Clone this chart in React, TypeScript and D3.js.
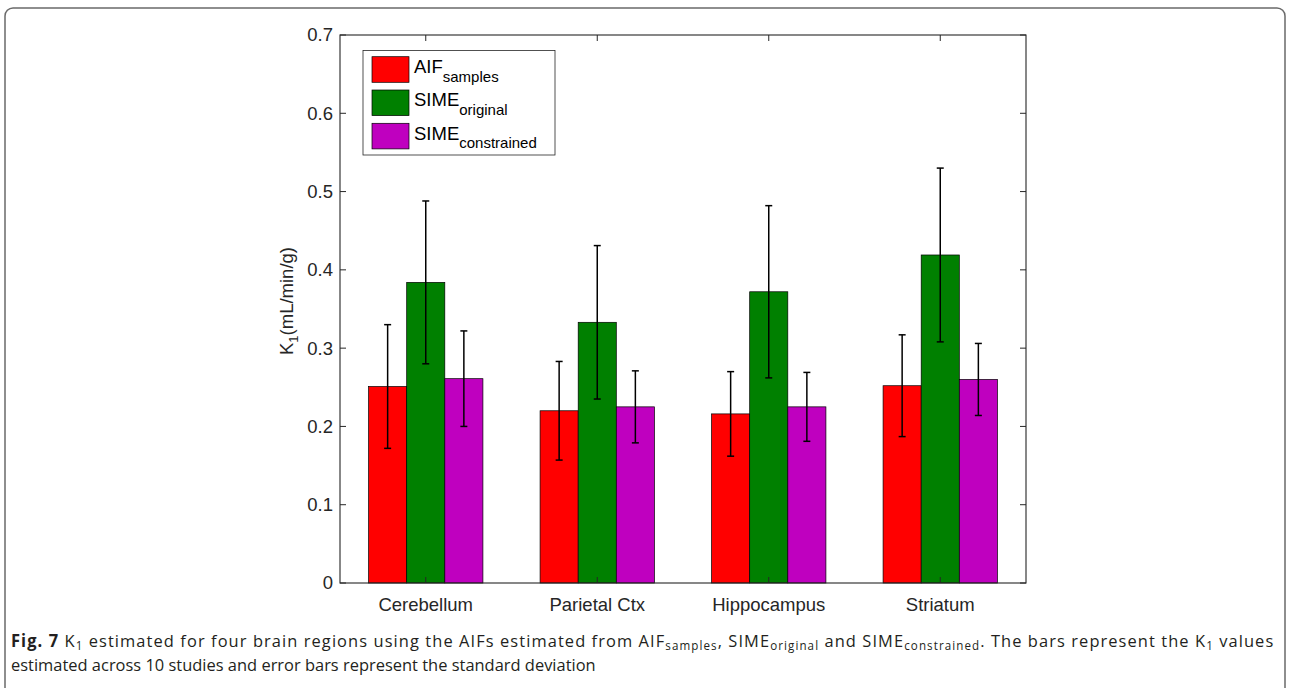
import React, { useRef, useLayoutEffect, useState } from 'react';
import * as d3 from 'd3';

// ---------- data ----------
const categories = ['Cerebellum', 'Parietal Ctx', 'Hippocampus', 'Striatum'];
const aifSamples = [0.251, 0.220, 0.216, 0.252];
const aifSamplesSd = [0.079, 0.063, 0.054, 0.065];
const simeOriginal = [0.384, 0.333, 0.372, 0.419];
const simeOriginalSd = [0.104, 0.098, 0.110, 0.111];
const simeConstrained = [0.261, 0.225, 0.225, 0.260];
const simeConstrainedSd = [0.061, 0.046, 0.044, 0.046];

const legendMain = ['AIF', 'SIME', 'SIME'];
const legendSub = ['samples', 'original', 'constrained'];
const seriesColors = ['#ff0000', '#008000', '#bf00bf'];

const yTicks = [0, 0.1, 0.2, 0.3, 0.4, 0.5, 0.6, 0.7];
const yTickLabels = ['0', '0.1', '0.2', '0.3', '0.4', '0.5', '0.6', '0.7'];

// ---------- layout ----------
const W = 1290;
const H = 688;
const M = { left: 340, right: 1026, top: 35, bottom: 583 };
const AX = '#262626';
const FONT = '"Liberation Sans", Arial, Helvetica, sans-serif';
const CAP_FONT = '"Open Sans", "Noto Sans", sans-serif';
const CAP_X0 = 11;
const CAP_X1 = 1274;
const CAP_L2_END = 596;

export default function App() {
  const x = d3.scaleLinear().domain([0.5, categories.length + 0.5]).range([M.left, M.right]);
  const y = d3.scaleLinear().domain([0, 0.7]).range([M.bottom, M.top]);
  const band = d3.scaleBand<number>().domain([0, 1, 2]).range([-1 / 3, 1 / 3]);
  const bw = x(1 + band.bandwidth()) - x(1);

  const series = [
    { values: aifSamples, sd: aifSamplesSd },
    { values: simeOriginal, sd: simeOriginalSd },
    { values: simeConstrained, sd: simeConstrainedSd },
  ];

  const line1Ref = useRef<SVGTextElement>(null);
  const line2Ref = useRef<SVGTextElement>(null);
  const [sx, setSx] = useState(1);
  const [ls, setLs] = useState(0);
  useLayoutEffect(() => {
    if (line1Ref.current && line2Ref.current) {
      const w1 = line1Ref.current.getBBox().width;
      const w2 = line2Ref.current.getBBox().width;
      if (w1 > 0 && w2 > 0) {
        const s = (CAP_L2_END - CAP_X0) / w2;
        const want = (CAP_X1 - CAP_X0) / s;
        const n = (line1Ref.current.textContent || '').length;
        setSx(s);
        setLs(n > 1 ? Math.max(0, (want - w1) / (n - 1)) : 0);
      }
    }
  }, []);

  const tickLen = 6;
  const cap = 3.5;
  const subDy = 3.5;
  const subFs = 12;

  return (
    <svg width={W} height={H} style={{ position: 'absolute', left: 0, top: 0, background: '#fff' }}>
      {/* outer frame */}
      <rect x={5} y={8} width={1280} height={720} rx={8} ry={8} fill="none" stroke="#6a6a6a" strokeWidth={1.5} />

      {/* bars */}
      {series.map((s, si) =>
        s.values.map((v, ci) => {
          const x0 = x(ci + 1 + (band(si) as number));
          return (
            <rect key={`b${si}-${ci}`} x={x0} y={y(v)} width={bw} height={y(0) - y(v)}
              fill={seriesColors[si]} stroke="#000" strokeWidth={0.7} />
          );
        })
      )}

      {/* error bars */}
      {series.map((s, si) =>
        s.values.map((v, ci) => {
          const cx = x(ci + 1 + (band(si) as number)) + bw / 2;
          const top = y(v + s.sd[ci]);
          const bot = y(v - s.sd[ci]);
          return (
            <g key={`e${si}-${ci}`} stroke="#000" strokeWidth={1.5}>
              <line x1={cx} x2={cx} y1={top} y2={bot} />
              <line x1={cx - cap} x2={cx + cap} y1={top} y2={top} />
              <line x1={cx - cap} x2={cx + cap} y1={bot} y2={bot} />
            </g>
          );
        })
      )}

      {/* axes box */}
      <rect x={M.left} y={M.top} width={M.right - M.left} height={M.bottom - M.top} fill="none" stroke={AX} strokeWidth={1.1} />

      {/* y ticks */}
      {yTicks.map((t, i) => (
        <g key={`yt${i}`}>
          <line x1={M.left} x2={M.left + tickLen} y1={y(t)} y2={y(t)} stroke={AX} strokeWidth={1} />
          <line x1={M.right} x2={M.right - tickLen} y1={y(t)} y2={y(t)} stroke={AX} strokeWidth={1} />
          <text x={M.left - 7} y={y(t)} dy="0.35em" textAnchor="end" fontFamily={FONT} fontSize={18.5} fill={AX}>
            {yTickLabels[i]}
          </text>
        </g>
      ))}

      {/* x ticks */}
      {categories.map((c, i) => (
        <g key={`xt${i}`}>
          <line x1={x(i + 1)} x2={x(i + 1)} y1={M.bottom} y2={M.bottom - tickLen} stroke={AX} strokeWidth={1} />
          <line x1={x(i + 1)} x2={x(i + 1)} y1={M.top} y2={M.top + tickLen} stroke={AX} strokeWidth={1} />
          <text x={x(i + 1)} y={611} textAnchor="middle" fontFamily={FONT} fontSize={18.5} fill={AX}>
            {c}
          </text>
        </g>
      ))}

      {/* y label */}
      <text transform={`translate(293, ${(M.top + M.bottom) / 2 - 8}) rotate(-90)`} textAnchor="middle"
        fontFamily={FONT} fontSize={18.5} fill={AX}>
        K<tspan fontSize={13} dy={5}>1</tspan><tspan dy={-5}>(mL/min/g)</tspan>
      </text>

      {/* legend */}
      <g>
        <rect x={363} y={50.5} width={192} height={104.5} fill="#fff" stroke={AX} strokeWidth={0.8} />
        {legendMain.map((m, i) => {
          const cy = 69.5 + i * 33.3;
          return (
            <g key={`lg${i}`}>
              <rect x={372} y={cy - 12.8} width={37} height={25.6} fill={seriesColors[i]} stroke="#000" strokeWidth={0.7} />
              <text x={414} y={cy + 3.5} fontFamily={FONT} fontSize={18.5} fill="#000">
                {m}<tspan fontSize={15} dy={8.5}>{legendSub[i]}</tspan>
              </text>
            </g>
          );
        })}
      </g>

      {/* caption */}
      <g transform={`translate(${CAP_X0},0) scale(${sx},1)`} fontFamily={CAP_FONT} fontSize={17} fill="#231f20">
        <text ref={line1Ref} x={0} y={647} style={{ letterSpacing: `${ls}px` }}>
          <tspan fontWeight="bold">Fig. 7</tspan>
          <tspan> K</tspan><tspan fontSize={subFs} dy={subDy}>1</tspan>
          <tspan dy={-subDy}> estimated for four brain regions using the AIFs estimated from AIF</tspan>
          <tspan fontSize={subFs} dy={subDy}>samples</tspan>
          <tspan dy={-subDy}>, SIME</tspan>
          <tspan fontSize={subFs} dy={subDy}>original</tspan>
          <tspan dy={-subDy}> and SIME</tspan>
          <tspan fontSize={subFs} dy={subDy}>constrained</tspan>
          <tspan dy={-subDy}>. The bars represent the K</tspan>
          <tspan fontSize={subFs} dy={subDy}>1</tspan>
          <tspan dy={-subDy}> values</tspan>
        </text>
        <text ref={line2Ref} x={0} y={671}>estimated across 10 studies and error bars represent the standard deviation</text>
      </g>
    </svg>
  );
}
